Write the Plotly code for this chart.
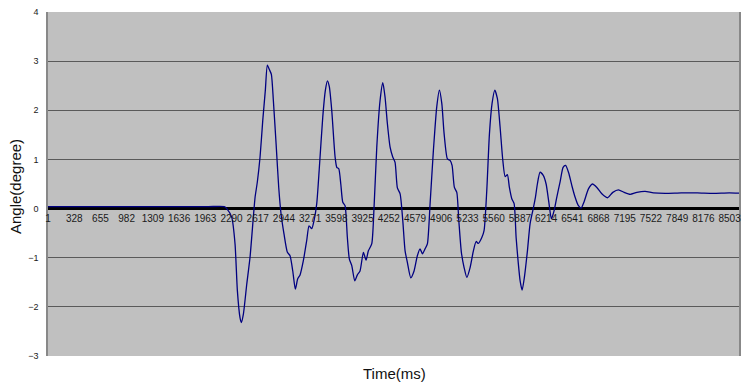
import plotly.graph_objects as go

# Time (ms) and angle (degree)
time_ms = [1, 800, 1500, 2000, 2200, 2231, 2293, 2334, 2363, 2396, 2413, 2438, 2480, 2521, 2562, 2584,
           2612, 2646, 2680, 2712, 2737, 2762, 2787, 2812, 2846, 2879, 2908, 2945, 2987, 3020,
           3054, 3086, 3116, 3145, 3186, 3228, 3257, 3291, 3320, 3353, 3386, 3428, 3461, 3486,
           3510, 3540, 3582, 3603, 3628, 3653, 3678, 3706, 3735, 3760, 3790, 3827, 3860, 3893,
           3935, 3968, 3997, 4039, 4068, 4102, 4143, 4177, 4205, 4234, 4268, 4301, 4330, 4359,
           4393, 4426, 4455, 4484, 4526, 4567, 4608, 4642, 4671, 4704, 4733, 4767, 4808, 4850,
           4883, 4913, 4942, 4983, 5016, 5041, 5070, 5100, 5125, 5157, 5191, 5225, 5266, 5307,
           5341, 5369, 5412, 5440, 5474, 5507, 5540, 5574, 5606, 5640, 5674, 5703, 5731, 5756,
           5786, 5815, 5840, 5868, 5890, 5915, 5943, 5981, 6014, 6048, 6081, 6105, 6139, 6180,
           6214, 6248, 6280, 6314, 6347, 6389, 6426, 6457, 6495, 6538, 6576, 6613, 6651, 6688,
           6742, 6792, 6847, 6909, 6979, 7046, 7116, 7187, 7262, 7346, 7449, 7553, 7700, 7900,
           8100, 8300, 8500, 8650]
angle_deg = [0.04, 0.04, 0.04, 0.04, 0.04, 0.0, -0.18, -0.72, -1.67, -2.22, -2.32, -2.15, -1.54, -0.99, -0.18, 0.23,
             0.54, 1.05, 1.8, 2.41, 2.92, 2.83, 2.73, 2.2, 1.32, 0.43, -0.11, -0.52, -0.89, -0.96,
             -1.27, -1.64, -1.43, -1.35, -1.06, -0.65, -0.35, -0.41, -0.24, 0.1, 0.84, 1.86, 2.41, 2.6,
             2.48, 2.0, 1.05, 0.84, 0.81, 0.5, 0.13, 0.06, -0.59, -1.03, -1.16, -1.47, -1.35, -1.27,
             -0.89, -1.05, -0.86, -0.72, 0.03, 1.25, 2.2, 2.56, 2.27, 1.73, 1.25, 1.05, 0.94, 0.42,
             0.3, -0.24, -0.86, -1.1, -1.41, -1.27, -0.96, -0.82, -0.92, -0.82, -0.72, 0.1, 1.18, 2.07,
             2.41, 2.14, 1.52, 1.01, 0.98, 0.88, 0.43, 0.33, -0.24, -0.89, -1.2, -1.4, -1.2, -0.86,
             -0.67, -0.71, -0.59, -0.45, 0.37, 1.52, 2.14, 2.41, 2.24, 1.66, 0.98, 0.65, 0.69, 0.43,
             0.2, 0.1, -0.59, -1.13, -1.47, -1.66, -1.4, -0.86, -0.31, -0.04, 0.23, 0.5, 0.74, 0.67,
             0.5, 0.13, -0.21, -0.04, 0.23, 0.55, 0.84, 0.88, 0.73, 0.45, 0.23, 0.07, 0.01, 0.14,
             0.4, 0.5, 0.43, 0.3, 0.22, 0.33, 0.38, 0.33, 0.29, 0.33, 0.35, 0.32, 0.31, 0.32,
             0.32, 0.31, 0.32, 0.31]

x_tick_vals = [1, 328, 655, 982, 1309, 1636, 1963, 2290, 2617, 2944, 3271, 3598, 3925, 4252,
               4579, 4906, 5233, 5560, 5887, 6214, 6541, 6868, 7195, 7522, 7849, 8176, 8503]
x_tick_text = [str(v) for v in x_tick_vals]
y_tick_vals = [-3, -2, -1, 0, 1, 2, 3, 4]
y_tick_text = ["\u22123", "\u22122", "\u22121", "0", "1", "2", "3", "4"]

FONT = "Arial, Liberation Sans, sans-serif"
W, H = 745, 383
ML, MR, MT, MB = 48, 6, 12, 27

fig = go.Figure()
fig.add_trace(go.Scatter(
    x=time_ms, y=angle_deg, mode="lines",
    line=dict(color="#000080", width=1.3, shape="spline", smoothing=0.6),
    hoverinfo="skip", showlegend=False,
))

plot_w = W - ML - MR
plot_h = H - MT - MB

fig.update_layout(
    width=W, height=H,
    margin=dict(l=ML, r=MR, t=MT, b=MB, autoexpand=False),
    paper_bgcolor="white",
    plot_bgcolor="#C0C0C0",
    font=dict(family=FONT, color="#222222"),
    xaxis=dict(
        range=[1, 8620],
        tickmode="array", tickvals=x_tick_vals, ticktext=x_tick_text,
        tickfont=dict(size=10, color="#1a1a1a"),
        showgrid=False, zeroline=False, showline=False,
        anchor="free", position=3/7, automargin=False,
        ticks="", ticklabelstandoff=2,
    ),
    yaxis=dict(
        range=[-3, 4], automargin=False,
        tickmode="array", tickvals=y_tick_vals, ticktext=y_tick_text,
        tickfont=dict(size=9, color="#1a1a1a"),
        showgrid=True, gridcolor="#5a5a5a", gridwidth=1.4,
        zeroline=True, zerolinecolor="#000000", zerolinewidth=3,
        showline=True, linecolor="#888888", linewidth=1.5, mirror=True,
        ticks="", ticklabelstandoff=6,
    ),
    annotations=[
        dict(text="Time(ms)", x=(395 - ML) / plot_w, xref="paper",
             y=(H - MB - 373) / plot_h, yref="paper",
             xanchor="center", yanchor="middle", showarrow=False,
             font=dict(size=15, color="#111111", family=FONT)),
        dict(text="Angle(degree)", x=(15 - ML) / plot_w, xref="paper",
             y=(H - MB - 187) / plot_h, yref="paper",
             xanchor="center", yanchor="middle", showarrow=False, textangle=-90,
             font=dict(size=15, color="#111111", family=FONT)),
    ],
)

fig.write_html("out.html", config={"displayModeBar": False},
               post_script="document.body.style.margin='0';document.body.style.overflow='hidden';")
